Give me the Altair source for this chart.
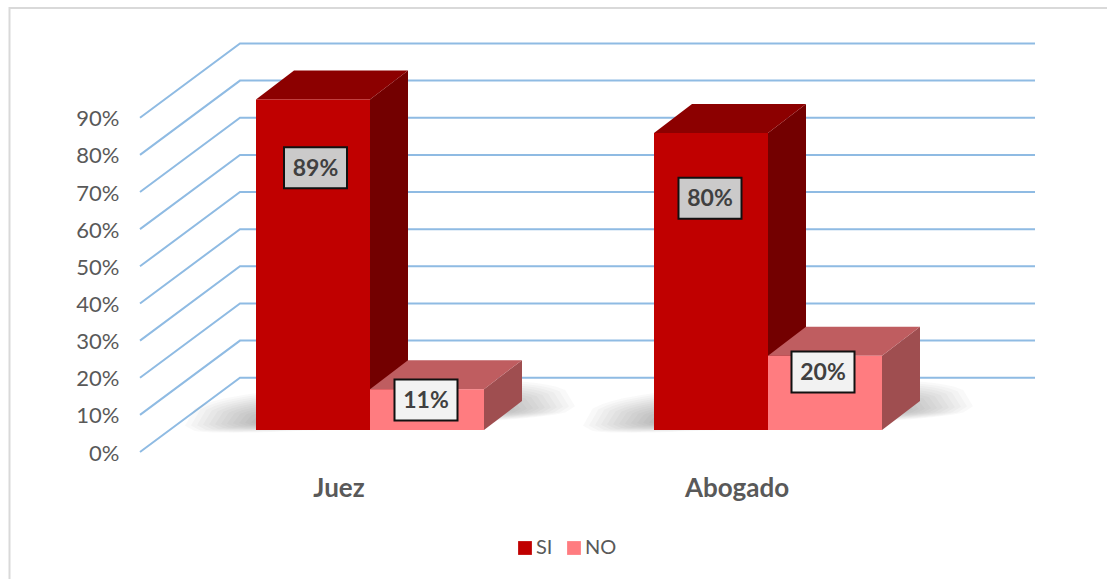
import altair as alt
import pandas as pd

# Survey shares by respondent group
groups = ["Juez", "Abogado"]
answers = ["SI", "NO"]
si_values = [89, 80]
no_values = [11, 20]
value_ticks = [0, 10, 20, 30, 40, 50, 60, 70, 80, 90]

FRONT = {"SI": "#C00000", "NO": "#FF7C80"}
TOP = {"SI": "#8C0000", "NO": "#BF5D60"}
SIDE = {"SI": "#730000", "NO": "#9F4E50"}
FONT = "Lato"
TEXT = "#595959"

# Plot geometry, all in scale units: x counts group spacings, y counts percent
PX_X = 398.0            # pixels for one group spacing
PX_Y = 3.714            # pixels for one percent
PLOT_W, PLOT_H = 895, 444
WALL_DX, WALL_DY = 100 / PX_X, 20.0
BAR_W = 114 / PX_X
BAR_DX, BAR_DY = 38 / PX_X, 29 / PX_Y
BASE = 22 / PX_Y
SPLIT = (370 - 140) / PX_X   # boundary between the two bars of the first group
LABEL_W, LABEL_H = 63 / PX_X, 41 / PX_Y
# How far each value box sits below its bar top, in percent
LABEL_DROP = {("Juez", "SI"): 18.4, ("Juez", "NO"): 2.9,
              ("Abogado", "SI"): 17.6, ("Abogado", "NO"): 4.4}
LABEL_SHIFT = {("Juez", "SI"): 2.5, ("Juez", "NO"): -1,
               ("Abogado", "SI"): -1, ("Abogado", "NO"): -2}

xs = alt.Scale(domain=[0, PLOT_W / PX_X], nice=False, zero=False)
ys = alt.Scale(domain=[0, PLOT_H / PX_Y], nice=False, zero=False)
y_axis = alt.Axis(
    values=value_ticks, labelExpr="datum.value + '%'", title=None, domain=False,
    ticks=False, grid=False, labelPadding=21, labelFont=FONT, labelFontSize=22,
    labelColor=TEXT, labelOffset=1)
X = alt.X("x:Q", scale=xs, axis=None)
Y = alt.Y("y:Q", scale=ys, axis=y_axis)

bars = []
for g, name in enumerate(groups):
    mid = SPLIT + g
    bars.append(dict(group=name, answer="SI", value=si_values[g], x0=mid - BAR_W, x1=mid))
    bars.append(dict(group=name, answer="NO", value=no_values[g], x0=mid, x1=mid + BAR_W))

# Gridlines: a slanted run up the side wall, then a straight run along the back wall
grid = []
for t in value_ticks:
    grid += [dict(t=t, x=0, y=t),
             dict(t=t, x=WALL_DX, y=t + WALL_DY),
             dict(t=t, x=PLOT_W / PX_X, y=t + WALL_DY)]
grid_layer = alt.Chart(pd.DataFrame(grid)).mark_line(color="#8FBBE3", strokeWidth=2).encode(
    x=X, y=Y, detail="t:N", order=alt.Order("x:Q"))


def area_layer(points, color, opacity=1.0):
    """Filled polygon drawn as a band between a lower and an upper edge."""
    return alt.Chart(pd.DataFrame(points)).mark_area(
        color=color, opacity=opacity, strokeWidth=0).encode(x=X, y=Y, y2="y2:Q")


def shadow_outline(cx, half_w, half_h):
    """Tilted rounded blob on the floor: one ring of the soft shadow."""
    pts = []
    for i in range(41):
        u = -1 + i / 20
        x_px = u * half_w
        spread = (1 - abs(u) ** 3) ** (1 / 3)
        centre = BASE + (14 + 0.05 * x_px) / PX_Y
        pts.append(dict(x=cx + x_px / PX_X,
                        y=centre - 0.35 * half_h * spread / PX_Y,
                        y2=centre + half_h * spread / PX_Y))
    return pts


# Soft floor shadow: nested translucent blobs, darkest close to the bars
shadow_layers = []
for g in range(len(groups)):
    cx = SPLIT + g + 10 / PX_X
    for step in range(12):
        shadow_layers.append(area_layer(
            shadow_outline(cx, 195 - step * 6, 32 - step * 1.8), "#404040", 0.033))

# Extruded faces of every bar: side and top first, the front rectangle above them
face_layers = []
for b in bars:
    top = BASE + b["value"]
    x0, x1 = b["x0"], b["x1"]
    face_layers.append(area_layer([
        dict(x=x1, y=BASE, y2=top),
        dict(x=x1 + BAR_DX, y=BASE + BAR_DY, y2=top + BAR_DY),
    ], SIDE[b["answer"]]))
    face_layers.append(area_layer([
        dict(x=x0, y=top, y2=top),
        dict(x=x0 + BAR_DX, y=top + BAR_DY, y2=top),
        dict(x=x1, y=top + BAR_DY, y2=top),
        dict(x=x1 + BAR_DX, y=top + BAR_DY, y2=top + BAR_DY),
    ], TOP[b["answer"]]))

front_df = pd.DataFrame([dict(answer=b["answer"], x=b["x0"], x2=b["x1"], y=BASE, y2=BASE + b["value"])
                         for b in bars])
front_layer = alt.Chart(front_df).mark_rect(strokeWidth=0).encode(
    x=X, x2="x2:Q", y=Y, y2="y2:Q",
    color=alt.Color("answer:N", scale=alt.Scale(domain=answers, range=[FRONT[a] for a in answers]),
                    legend=alt.Legend(
                        orient="none", legendX=375, legendY=530, direction="horizontal",
                        title=None, symbolType="square", symbolSize=190, symbolStrokeWidth=0,
                        labelFont=FONT, labelFontSize=20, labelColor=TEXT, columnPadding=11,
                        labelOffset=1)))

# Value labels in framed boxes
label_rows = []
for b in bars:
    key = (b["group"], b["answer"])
    cx = (b["x0"] + b["x1"]) / 2 + LABEL_SHIFT[key] / PX_X
    cy = BASE + b["value"] - LABEL_DROP[key]
    label_rows.append(dict(text=f"{b['value']}%", x=cx - LABEL_W / 2, x2=cx + LABEL_W / 2,
                           y=cy - LABEL_H / 2, y2=cy + LABEL_H / 2, cx=cx, cy=cy,
                           fill="#CBCACA" if b["answer"] == "SI" else "#F2F2F2"))
label_df = pd.DataFrame(label_rows)
box_layer = alt.Chart(label_df).mark_rect(stroke="#111111", strokeWidth=2).encode(
    x=X, x2="x2:Q", y=Y, y2="y2:Q", fill=alt.Fill("fill:N", scale=None))
text_layer = alt.Chart(label_df).mark_text(
    font=FONT, fontWeight="bold", fontSize=23, color="#404040", baseline="middle", align="center", dy=1
).encode(x=alt.X("cx:Q", scale=xs, axis=None), y=alt.Y("cy:Q", scale=ys, axis=y_axis), text="text:N")

# Group names below the floor
cat_df = pd.DataFrame([dict(name=n, x=SPLIT + i - 31 / PX_X, y=-37 / PX_Y) for i, n in enumerate(groups)])
cat_layer = alt.Chart(cat_df).mark_text(
    font=FONT, fontWeight="bold", fontSize=26, color=TEXT, baseline="middle", align="center"
).encode(x=X, y=Y, text="name:N")

# Outer chart frame, open along the bottom and the right
frame_pts = [dict(x=-130.5 / PX_X, y=-127 / PX_Y, k=0),
             dict(x=-130.5 / PX_X, y=444 / PX_Y, k=1),
             dict(x=967 / PX_X, y=444 / PX_Y, k=2)]
frame_layer = alt.Chart(pd.DataFrame(frame_pts)).mark_line(color="#D9D9D9", strokeWidth=2).encode(
    x=X, y=Y, order="k:Q")

chart = alt.layer(
    frame_layer, grid_layer, *shadow_layers, *face_layers, front_layer,
    box_layer, text_layer, cat_layer
).resolve_scale(x="shared", y="shared").properties(
    width=PLOT_W, height=PLOT_H,
    autosize=alt.AutoSizeParams(type="none"),
    padding={"left": 140, "top": 8, "right": 72, "bottom": 127},
    background="white",
).configure_view(stroke=None)

chart.save("out.html", embed_options={"renderer": "svg", "actions": False})
